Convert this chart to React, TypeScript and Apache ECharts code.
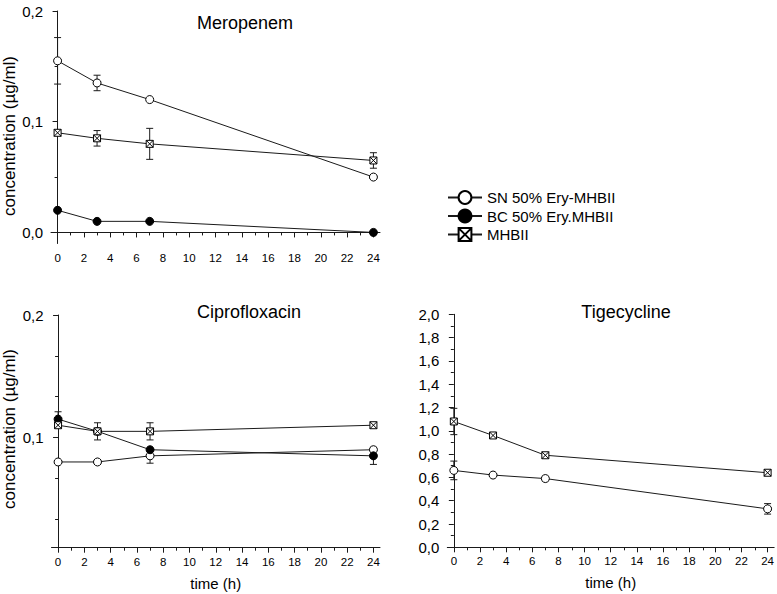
import React, { useEffect, useRef } from "react";
import * as echarts from "echarts";

// ---------- data ----------
const times = [0, 3, 7, 24];
const xMajorTicks = [0, 2, 4, 6, 8, 10, 12, 14, 16, 18, 20, 22, 24];
const xMinorTicks = [1, 3, 5, 7, 9, 11, 13, 15, 17, 19, 21, 23];

const seriesNames = ["SN 50% Ery-MHBII", "BC 50% Ery.MHBII", "MHBII"];

// Meropenem
const meroSN = [0.155, 0.135, 0.12, 0.05];
const meroSNErr = [0.021, 0.007, 0, 0];
const meroBC = [0.02, 0.01, 0.01, 0.0];
const meroBCErr = [0, 0, 0, 0];
const meroMH = [0.09, 0.085, 0.08, 0.065];
const meroMHErr = [0, 0.007, 0.014, 0.007];
const meroYLabels = [0, 0.1, 0.2];
const meroYMinor = [0.05, 0.15];

// Ciprofloxacin
const ciproSN = [0.08, 0.08, 0.085, 0.09];
const ciproSNErr = [0, 0, 0.006, 0];
const ciproBC = [0.115, 0.105, 0.09, 0.085];
const ciproBCErr = [0.006, 0.007, 0, 0.007];
const ciproMH = [0.11, 0.105, 0.105, 0.11];
const ciproMHErr = [0, 0, 0.007, 0];
const ciproYLabels = [0.1, 0.2];
const ciproYMinor = [0.0333, 0.0667, 0.1333, 0.1667];

// Tigecycline
const tigeSN = [0.66, 0.62, 0.59, 0.33];
const tigeSNErr = [0.08, 0, 0.02, 0.045];
const tigeMH = [1.08, 0.96, 0.79, 0.64];
const tigeMHErr = [0.113, 0.015, 0.015, 0.015];

// ---------- styling helpers ----------
const FONT = '"Liberation Sans", Arial, Helvetica, sans-serif';
const INK = "#1a1a1a";
const lineStyle = { color: INK, width: 1 };
const SQUARE_X = "path://M0,0L10,0L10,10L0,10ZM0,0L10,10M10,0L0,10";

const symbolDefs: Record<string, any> = {
  [seriesNames[0]]: { symbol: "circle", symbolSize: 8, itemStyle: { color: "#fff", borderColor: "#000", borderWidth: 1 } },
  [seriesNames[1]]: { symbol: "circle", symbolSize: 8, itemStyle: { color: "#000", borderColor: "#000", borderWidth: 1 } },
  [seriesNames[2]]: { symbol: SQUARE_X, symbolSize: 7, itemStyle: { color: "#fff", borderColor: "#000", borderWidth: 1 } },
};

const fmt = (v: number) => v.toFixed(1).replace(".", ",");

function errRender(params: any, api: any) {
  const x = api.value(0);
  const lo = api.coord([x, api.value(1)]);
  const hi = api.coord([x, api.value(2)]);
  const w = 3.5;
  const style = { stroke: INK, lineWidth: 1 };
  return {
    type: "group",
    children: [
      { type: "line", shape: { x1: lo[0], y1: lo[1], x2: hi[0], y2: hi[1] }, style },
      { type: "line", shape: { x1: lo[0] - w, y1: lo[1], x2: lo[0] + w, y2: lo[1] }, style },
      { type: "line", shape: { x1: hi[0] - w, y1: hi[1], x2: hi[0] + w, y2: hi[1] }, style },
    ],
  };
}

function lineSeries(name: string, values: number[], axis: number) {
  return {
    type: "line",
    name,
    xAxisIndex: axis,
    yAxisIndex: axis,
    data: times.map((t, i) => [t, values[i]]),
    ...symbolDefs[name],
    showAllSymbol: true,
    lineStyle,
    z: 3,
    silent: true,
  };
}

function errSeries(values: number[], errs: number[], axis: number) {
  return {
    type: "custom",
    name: "err",
    xAxisIndex: axis,
    yAxisIndex: axis,
    renderItem: errRender,
    data: times
      .map((t, i) => [t, values[i] - errs[i], values[i] + errs[i]])
      .filter((d) => d[2] > d[1]),
    encode: { x: 0, y: [1, 2] },
    z: 2,
    silent: true,
  };
}

const axisLine = { show: true, lineStyle: { color: INK, width: 1 } };
const tickLine = { color: INK, width: 1 };

function xMajor(gridIndex: number, withName: boolean) {
  return {
    type: "value",
    gridIndex,
    min: -0.5,
    max: 24.5,
    position: "bottom",
    axisLine,
    axisTick: { show: true, customValues: xMajorTicks, length: 5, lineStyle: tickLine },
    axisLabel: { show: true, customValues: xMajorTicks, fontSize: 11.5, margin: 8, color: "#000", fontFamily: FONT },
    splitLine: { show: false },
    name: withName ? "time (h)" : "",
    nameLocation: "middle",
    nameGap: 28,
    nameTextStyle: { fontSize: 15, color: "#000", fontFamily: FONT },
  };
}

function xMinor(gridIndex: number) {
  return {
    type: "value",
    gridIndex,
    min: -0.5,
    max: 24.5,
    position: "bottom",
    axisLine: { show: false },
    axisTick: { show: true, customValues: xMinorTicks, length: 3, lineStyle: tickLine },
    axisLabel: { show: false },
    splitLine: { show: false },
  };
}

function yMajor(gridIndex: number, min: number, max: number, labels: number[]) {
  return {
    type: "value",
    gridIndex,
    min,
    max,
    position: "left",
    axisLine,
    axisTick: { show: true, customValues: labels, length: 5, lineStyle: tickLine },
    axisLabel: { show: true, customValues: labels, formatter: fmt, fontSize: 15, margin: 8, color: "#000", fontFamily: FONT },
    splitLine: { show: false },
  };
}

function yMinor(gridIndex: number, min: number, max: number, ticks: number[]) {
  return {
    type: "value",
    gridIndex,
    min,
    max,
    position: "left",
    axisLine: { show: false },
    axisTick: { show: ticks.length > 0, customValues: ticks, length: 3, lineStyle: tickLine },
    axisLabel: { show: false },
    splitLine: { show: false },
  };
}

const gridMero = { left: 51, top: 11, width: 329, height: 232.5 };
const gridCipro = { left: 51.5, top: 315, width: 328.5, height: 232.7 };
const gridTige = { left: 447.3, top: 314.3, width: 327.7, height: 233 };

const titleStyle = { fontSize: 18, fontWeight: "normal", color: "#000", fontFamily: FONT };

const option: any = {
  animation: false,
  backgroundColor: "#fff",
  textStyle: { fontFamily: FONT },
  title: [
    { text: "Meropenem", left: 245, top: 14, textAlign: "center", padding: 0, textStyle: titleStyle },
    { text: "Ciprofloxacin", left: 249, top: 302.5, textAlign: "center", padding: 0, textStyle: titleStyle },
    { text: "Tigecycline", left: 626, top: 302.5, textAlign: "center", padding: 0, textStyle: titleStyle },
  ],
  legend: {
    data: seriesNames,
    orient: "vertical",
    left: 447,
    top: 190,
    itemWidth: 34,
    itemHeight: 16,
    itemGap: 3.5,
    selectedMode: false,
    padding: 0,
    textStyle: { fontSize: 15, color: "#000", fontFamily: FONT },
  },
  grid: [gridMero, gridMero, gridCipro, gridCipro, gridTige, gridTige].map((g) => ({ ...g, containLabel: false })),
  xAxis: [xMajor(0, false), xMinor(1), xMajor(2, true), xMinor(3), xMajor(4, true), xMinor(5)],
  yAxis: [
    yMajor(0, -0.01, 0.2, meroYLabels),
    yMinor(1, -0.01, 0.2, meroYMinor),
    yMajor(2, 0.01, 0.2, ciproYLabels),
    yMinor(3, 0.01, 0.2, ciproYMinor),
    {
      type: "value",
      gridIndex: 4,
      min: 0,
      max: 2,
      interval: 0.2,
      position: "left",
      axisLine,
      axisTick: { show: true, length: 5, lineStyle: tickLine },
      minorTick: { show: true, splitNumber: 2, length: 3, lineStyle: tickLine },
      axisLabel: { show: true, formatter: fmt, fontSize: 15, margin: 8, color: "#000", fontFamily: FONT },
      splitLine: { show: false },
      minorSplitLine: { show: false },
    },
    yMinor(5, 0, 2, []),
  ],
  graphic: [
    {
      type: "text",
      x: 9,
      y: 136,
      rotation: Math.PI / 2,
      style: { text: "concentration (µg/ml)", fontSize: 17, fontFamily: FONT, fill: "#000", align: "center", verticalAlign: "middle", textAlign: "center", textVerticalAlign: "middle" },
    },
    {
      type: "text",
      x: 9.5,
      y: 429,
      rotation: Math.PI / 2,
      style: { text: "concentration (µg/ml)", fontSize: 17, fontFamily: FONT, fill: "#000", align: "center", verticalAlign: "middle", textAlign: "center", textVerticalAlign: "middle" },
    },
  ],
  series: [
    // Meropenem
    errSeries(meroSN, meroSNErr, 0),
    errSeries(meroBC, meroBCErr, 0),
    errSeries(meroMH, meroMHErr, 0),
    lineSeries(seriesNames[0], meroSN, 0),
    lineSeries(seriesNames[1], meroBC, 0),
    lineSeries(seriesNames[2], meroMH, 0),
    // Ciprofloxacin
    errSeries(ciproSN, ciproSNErr, 2),
    errSeries(ciproBC, ciproBCErr, 2),
    errSeries(ciproMH, ciproMHErr, 2),
    lineSeries(seriesNames[0], ciproSN, 2),
    lineSeries(seriesNames[1], ciproBC, 2),
    lineSeries(seriesNames[2], ciproMH, 2),
    // Tigecycline
    errSeries(tigeSN, tigeSNErr, 4),
    errSeries(tigeMH, tigeMHErr, 4),
    lineSeries(seriesNames[0], tigeSN, 4),
    lineSeries(seriesNames[2], tigeMH, 4),
  ],
};

export default function App() {
  const ref = useRef<HTMLDivElement>(null);
  useEffect(() => {
    if (!ref.current) return;
    const chart = echarts.init(ref.current, undefined, { renderer: "svg" });
    chart.setOption(option);
    return () => chart.dispose();
  }, []);
  return (
    <div
      ref={ref}
      style={{ position: "absolute", left: 0, top: 0, width: 777, height: 594, background: "#fff" }}
    />
  );
}
